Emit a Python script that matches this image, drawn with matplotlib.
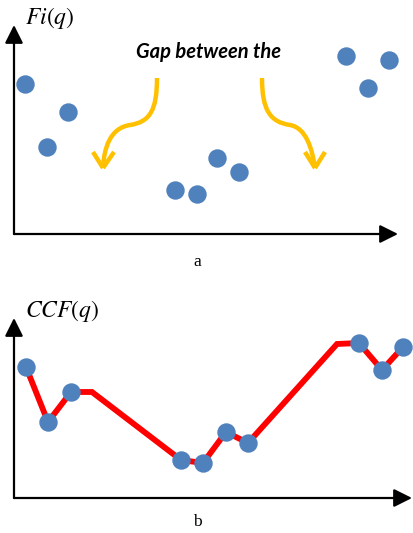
import numpy as np
import matplotlib.pyplot as plt
from matplotlib.path import Path
from matplotlib.patches import PathPatch

# panel a: scattered feature values Fi(q)
fi_x = [11, 33, 54, 161, 183, 203, 225, 332, 354, 375]
fi_y = [150, 87, 122, 44, 40, 76, 62, 178, 146, 174]

# panel b: CCF(q) polyline, markers only on the sampled points
ccf_x = [12, 34, 57, 78, 167, 189, 212, 234, 323, 345, 368, 389]
ccf_y = [131, 76, 106, 106, 38, 35, 66, 55, 154, 155, 128, 151]
ccf_marked = [0, 1, 2, 4, 5, 6, 7, 9, 10, 11]

gap_text = "Gap between the"

W, H = 413, 533
BLUE = "#4f81bd"
ORANGE = "#ffc000"

plt.rcParams['mathtext.fontset'] = 'stix'

fig = plt.figure(figsize=(W / 100, H / 100), dpi=100)


def make_axes(x0, y0, x1, y1):
    # pixel box -> figure fraction, data units are pixels from the origin
    ax = fig.add_axes([x0 / W, (H - y0) / H, (x1 - x0) / W, (y0 - y1) / H])
    ax.set_xlim(0, x1 - x0)
    ax.set_ylim(0, y0 - y1)
    ax.axis('off')
    return ax


def draw_axes_arrows(ax, xtip, ytip):
    kw = dict(arrowstyle='-|>,head_length=1.1,head_width=0.55', color='black',
              lw=1.6, shrinkA=0, shrinkB=0)
    ax.annotate('', xy=(xtip, 0), xytext=(0, 0), arrowprops=kw, annotation_clip=False)
    ax.annotate('', xy=(0, ytip), xytext=(0, 0), arrowprops=kw, annotation_clip=False)


def curved_arrow(ax, pts, wings):
    verts = pts
    codes = [Path.MOVETO] + [Path.CURVE4] * (len(pts) - 1)
    ax.add_patch(PathPatch(Path(verts, codes), fill=False, ec=ORANGE, lw=3.2,
                           capstyle='butt', clip_on=False))
    tip = pts[-1]
    for w in wings:
        ax.plot([w[0], tip[0]], [w[1], tip[1]], color=ORANGE, lw=3.2,
                solid_capstyle='butt', clip_on=False)


# ---- panel a ----
ax_a = make_axes(14, 234, 400, 20)
draw_axes_arrows(ax_a, 384, 209)
ax_a.scatter(fi_x, fi_y, s=150, color=BLUE, zorder=3, clip_on=False)
ax_a.text(11, 216, r'$Fi(q)$', fontsize=17, ha='left', va='center')
ax_a.text(195, 182, gap_text, fontsize=14.5, fontweight='bold', style='italic',
          family=['Lato', 'DejaVu Sans'], ha='center', va='center')

left_pts = [(143, 156), (143, 124), (136, 112), (116, 109),
            (96, 106), (90, 86), (89, 66)]
curved_arrow(ax_a, left_pts, [(79, 82), (100, 82)])
right_pts = [(248, 156), (248, 124), (256, 112), (276, 109),
             (292, 106), (298, 86), (301, 66)]
curved_arrow(ax_a, right_pts, [(291, 82), (311, 82)])

fig.text(197 / W, 1 - 262 / H, 'a', fontsize=12.5, family='Liberation Serif',
         ha='center', va='center')

# ---- panel b ----
ax_b = make_axes(14, 498, 414, 310)
draw_axes_arrows(ax_b, 398, 180)
ax_b.plot(ccf_x, ccf_y, color='red', lw=4.2, solid_joinstyle='miter', zorder=2,
          clip_on=False)
ax_b.scatter(np.array(ccf_x)[ccf_marked], np.array(ccf_y)[ccf_marked], s=150,
             color=BLUE, zorder=3, clip_on=False)
ax_b.text(11, 187, r'$CCF(q)$', fontsize=17, ha='left', va='center')

fig.text(197 / W, 1 - 522 / H, 'b', fontsize=12.5, family='Liberation Serif',
         ha='center', va='center')

fig.savefig('out.png', dpi=100)
